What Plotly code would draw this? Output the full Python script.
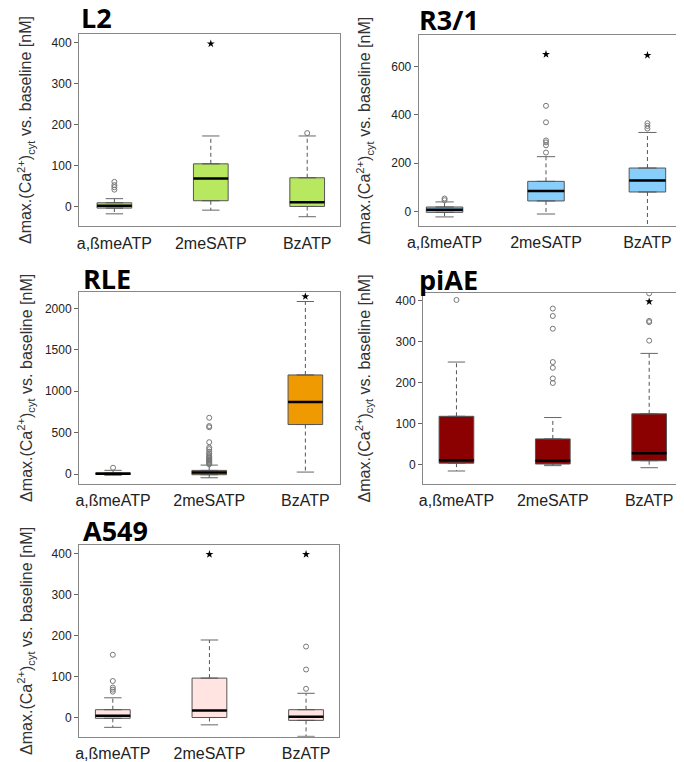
import plotly.graph_objects as go

categories = ["a,ßmeATP", "2meSATP", "BzATP"]

# ---- L2 ----
L2_q1 = [-4, 14, 0]
L2_med = [2, 68, 10]
L2_q3 = [9, 104, 70]
L2_lo = [-18, -9, -25]
L2_hi = [19, 172, 172]
L2_out = [[41, 47, 52, 60], [], [179]]
L2_star = [None, 397, None]

# ---- R3/1 ----
R31_q1 = [-3, 44, 81]
R31_med = [8, 85, 129]
R31_q3 = [19, 125, 180]
R31_lo = [-22, -10, -75]
R31_hi = [40, 227, 327]
R31_out = [[47, 54], [244, 274, 286, 294, 369, 437], [343, 354, 365]]
R31_star = [None, 650, 646]

# ---- RLE ----
RLE_q1 = [-5, -8, 598]
RLE_med = [5, 20, 871]
RLE_q3 = [15, 44, 1197]
RLE_lo = [-15, -45, 24]
RLE_hi = [45, 108, 2084]
RLE_out = [[76],
           [118, 128, 138, 148, 158, 168, 178, 190, 200, 215, 230, 250, 270, 300, 320, 385, 565, 580, 680],
           []]
RLE_star = [None, None, 2145]

# ---- piAE ----
piAE_q1 = [4, 2, 10]
piAE_med = [11, 10, 28]
piAE_q3 = [118, 63, 124]
piAE_lo = [-15, -2, -7]
piAE_hi = [250, 115, 271]
piAE_out = [[401], [199, 210, 236, 250, 331, 362, 380], [302, 347, 350, 417]]
piAE_star = [None, None, 397]

# ---- A549 ----
A549_q1 = [-2, 0, -7]
A549_med = [4, 17, 2]
A549_q3 = [19, 96, 19]
A549_lo = [-24, -18, -46]
A549_hi = [48, 189, 59]
A549_out = [[63, 68, 73, 89, 153], [], [70, 117, 173]]
A549_star = [None, 398, 398]

OFF = 8                      # page body margin of the browser
W, H = 684 - OFF, 762 - OFF
FONT = "Liberation Sans, Arial, sans-serif"
BOXW = 0.36

panels = [
    dict(name="L2", q1=L2_q1, med=L2_med, q3=L2_q3, lo=L2_lo, hi=L2_hi, out=L2_out, star=L2_star,
         color="#b8e85f", px=(69, 334), py=(34, 227), xr=[-0.367, 2.337], yr=[-48.7, 421],
         ticks=[0, 100, 200, 300, 400], tpos=(69, 17.5), ytx=15),
    dict(name="R3/1", q1=R31_q1, med=R31_med, q3=R31_q3, lo=R31_lo, hi=R31_hi, out=R31_out, star=R31_star,
         color="#87cefa", px=(414.3, 679.3), py=(35, 226.7), xr=[-0.255, 2.315], yr=[-60, 730],
         ticks=[0, 200, 400, 600], tpos=(413, 19.5), ytx=359),
    dict(name="RLE", q1=RLE_q1, med=RLE_med, q3=RLE_q3, lo=RLE_lo, hi=RLE_hi, out=RLE_out, star=RLE_star,
         color="#ee9a00", px=(69, 334), py=(293, 485), xr=[-0.354, 2.357], yr=[-117, 2196],
         ticks=[0, 500, 1000, 1500, 2000], tpos=(71, 279), ytx=15),
    dict(name="piAE", q1=piAE_q1, med=piAE_med, q3=piAE_q3, lo=piAE_lo, hi=piAE_hi, out=piAE_out, star=piAE_star,
         color="#8b0000", px=(418.7, 682), py=(293.3, 485), xr=[-0.347, 2.341], yr=[-46, 419],
         ticks=[0, 100, 200, 300, 400], tpos=(413, 280), ytx=359),
    dict(name="A549", q1=A549_q1, med=A549_med, q3=A549_q3, lo=A549_lo, hi=A549_hi, out=A549_out, star=A549_star,
         color="#ffe4e1", px=(69, 333.3), py=(546.7, 738.7), xr=[-0.350, 2.341], yr=[-47, 420],
         ticks=[0, 100, 200, 300, 400], tpos=(71, 532), ytx=15),
]


def fx(px):
    return (px - OFF) / W


def fy(py):
    return 1 - (py - OFF) / H


fig = go.Figure()
annotations = []
layout = {}

for i, p in enumerate(panels):
    k = "" if i == 0 else str(i + 1)
    xa, ya = "x" + k, "y" + k
    for j in range(3):
        # whiskers (dashed)
        for a, b in ((p["q3"][j], p["hi"][j]), (p["q1"][j], p["lo"][j])):
            fig.add_trace(go.Scatter(x=[j, j], y=[a, b], mode="lines", xaxis=xa, yaxis=ya,
                                     line=dict(color="#555555", width=1, dash="4px,3px"),
                                     hoverinfo="skip"))
        # caps
        for v in (p["hi"][j], p["lo"][j]):
            fig.add_trace(go.Scatter(x=[j - BOXW / 4, j + BOXW / 4], y=[v, v], mode="lines",
                                     xaxis=xa, yaxis=ya, line=dict(color="#666666", width=1),
                                     hoverinfo="skip"))
        # box
        fig.add_trace(go.Box(x=[j], q1=[p["q1"][j]], median=[p["med"][j]], q3=[p["q3"][j]],
                             lowerfence=[p["q1"][j]], upperfence=[p["q3"][j]],
                             width=BOXW, fillcolor=p["color"], boxpoints=False,
                             line=dict(color="#555555", width=1), xaxis=xa, yaxis=ya,
                             hoverinfo="skip"))
        # median
        fig.add_trace(go.Scatter(x=[j - BOXW / 2, j + BOXW / 2], y=[p["med"][j]] * 2, mode="lines",
                                 xaxis=xa, yaxis=ya, line=dict(color="black", width=2.5),
                                 hoverinfo="skip"))
        # outliers
        if p["out"][j]:
            fig.add_trace(go.Scatter(x=[j] * len(p["out"][j]), y=p["out"][j], mode="markers",
                                     xaxis=xa, yaxis=ya,
                                     marker=dict(symbol="circle-open", size=5, color="#777777",
                                                 line=dict(width=1)),
                                     hoverinfo="skip"))
        # significance star
        if p["star"][j] is not None:
            fig.add_trace(go.Scatter(x=[j], y=[p["star"][j]], mode="markers", xaxis=xa, yaxis=ya,
                                     marker=dict(symbol="star", size=6, color="black"),
                                     hoverinfo="skip"))

    x0, x1 = p["px"]
    t0, t1 = p["py"]
    layout["xaxis" + k] = dict(domain=[fx(x0), fx(x1)], range=p["xr"], anchor=ya,
                               tickvals=[0, 1, 2], ticktext=categories,
                               showline=True, mirror=True, linecolor="#888888", linewidth=1,
                               ticks="outside", ticklen=2, tickcolor="rgba(0,0,0,0)",
                               showgrid=False, zeroline=False,
                               tickfont=dict(family=FONT, size=16, color="#222222"))
    layout["yaxis" + k] = dict(domain=[fy(t1), fy(t0)], range=p["yr"], anchor=xa,
                               tickvals=p["ticks"], showline=True, mirror=True,
                               linecolor="#888888", linewidth=1,
                               ticks="outside", ticklen=4, tickcolor="#666666",
                               showgrid=False, zeroline=False,
                               tickfont=dict(family=FONT, size=12, color="#222222"))
    annotations.append(dict(text="<b>" + p["name"] + "</b>", xref="paper", yref="paper",
                            x=fx(p["tpos"][0]), y=fy(p["tpos"][1]),
                            xanchor="left", yanchor="middle", showarrow=False,
                            font=dict(family="Open Sans, sans-serif", size=27, color="black")))
    annotations.append(dict(text="Δmax.(Ca<sup>2+</sup>)<sub>cyt</sub> vs. baseline [nM]",
                            xref="paper", yref="paper", x=fx(p["ytx"]),
                            y=fy((t0 + t1) / 2), textangle=-90,
                            xanchor="center", yanchor="middle", showarrow=False,
                            font=dict(family=FONT, size=16, color="#333333")))

fig.update_layout(width=W, height=H, margin=dict(l=0, r=0, t=0, b=0),
                  paper_bgcolor="white", plot_bgcolor="white", showlegend=False,
                  annotations=annotations, **layout)

fig.write_html("out.html")
